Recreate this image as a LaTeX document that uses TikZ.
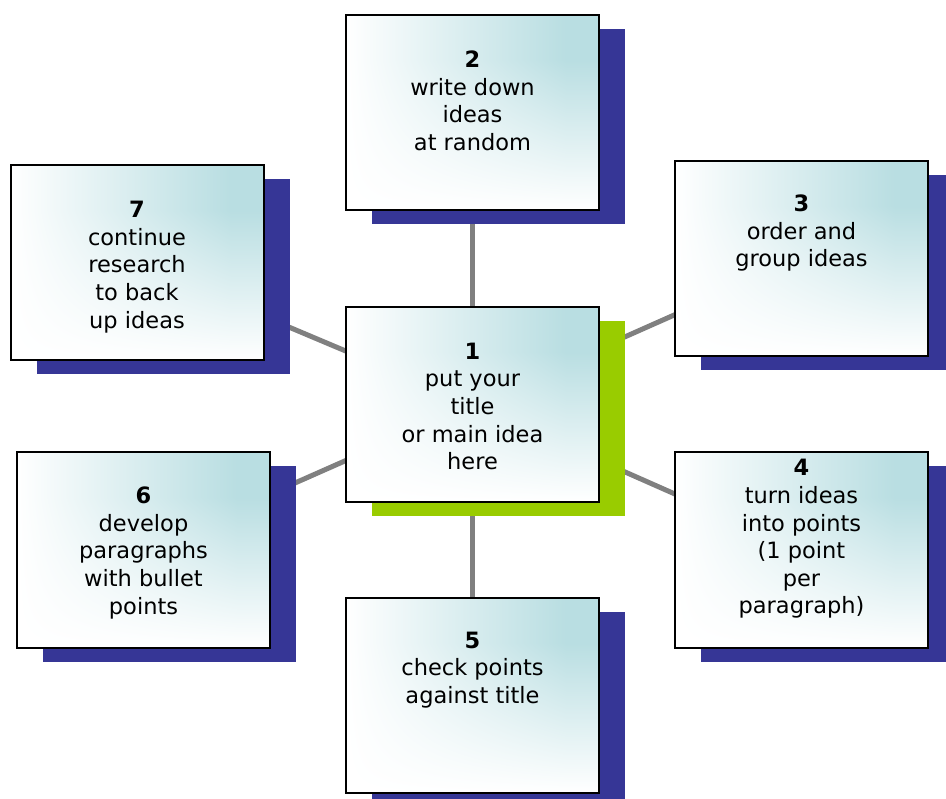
\documentclass[tikz,border=0pt]{standalone}
\usepackage{fontspec}
\setmainfont{DejaVu Sans}
\usetikzlibrary{shadows,backgrounds}
\definecolor{shadblue}{HTML}{363696}
\definecolor{shadgreen}{HTML}{99CC00}
\definecolor{linkgray}{HTML}{808080}
% teal (#B9DEE2) in the upper right corner, fading to white left and down
% (the path is mapped to the central -25bp..25bp of the shading)
\pgfdeclarefunctionalshading{tealcorner}{\pgfpoint{-50bp}{-50bp}}{\pgfpoint{50bp}{50bp}}{}{
  25 add 50 div dup 0 lt {pop 0} if 1.3 mul dup 1 gt {pop 1} if
  exch 25 add 50 div dup 0 lt {pop 0} if 1.15 mul dup 1 gt {pop 1} if
  mul
  dup 0.275 mul 1 exch sub
  exch dup 0.13 mul 1 exch sub
  exch 0.115 mul 1 exch sub
}
\tikzset{
  ideabox/.style={rectangle, draw=black, line width=2pt,
    minimum width=253pt, minimum height=195pt, inner sep=0pt,
    shading=tealcorner},
  blueshadow/.style={drop shadow={shadow xshift=26pt, shadow yshift=-14pt, fill=shadblue, opacity=1}},
  greenshadow/.style={drop shadow={shadow xshift=26pt, shadow yshift=-14pt, fill=shadgreen, opacity=1}},
  boxtext/.style={align=center, inner sep=0pt, text=black,
    font=\fontsize{22.5}{27.6}\selectfont},
  link/.style={draw=linkgray, line width=5pt}
}
\begin{document}
\begin{tikzpicture}[x=1pt,y=-1pt]
\useasboundingbox (0,0) rectangle (946,799);
% boxes
\node[ideabox, greenshadow] (b1) at (472.5,404.5) {};
\node[ideabox, blueshadow] (b2) at (472.5,112.5) {};
\node[ideabox, blueshadow] (b3) at (801.5,258.5) {};
\node[ideabox, blueshadow] (b4) at (801.5,550) {};
\node[ideabox, blueshadow] (b5) at (472.5,695.5) {};
\node[ideabox, blueshadow] (b6) at (143.5,550) {};
\node[ideabox, blueshadow] (b7) at (137,263) {};
% texts
\node[boxtext] (t1) at (472.5,406.5) {\textbf{1}\\put your\\title\\or main idea\\here};
\node[boxtext] (t2) at (472.5,101) {\textbf{2}\\write down\\ideas\\at random};
\node[boxtext] (t3) at (801.5,233) {\textbf{3}\\order and\\group ideas};
\node[boxtext] (t4) at (801.5,539) {\textbf{4}\\turn ideas\\into points\\(1 point\\per\\paragraph)};
\node[boxtext] (t5) at (472.5,670) {\textbf{5}\\check points\\against title};
\node[boxtext] (t6) at (143.5,553) {\textbf{6}\\develop\\paragraphs\\with bullet\\points};
\node[boxtext] (t7) at (137,267) {\textbf{7}\\continue\\research\\to back\\up ideas};
% connectors
\begin{pgfonlayer}{background}
\draw[link] (b1.center) -- (b2.center);
\draw[link] (b1.center) -- (b3.center);
\draw[link] (b1.center) -- (b4.center);
\draw[link] (b1.center) -- (b5.center);
\draw[link] (b1.center) -- (b6.center);
\draw[link] (b1.center) -- (b7.center);
\end{pgfonlayer}
\end{tikzpicture}
\end{document}
